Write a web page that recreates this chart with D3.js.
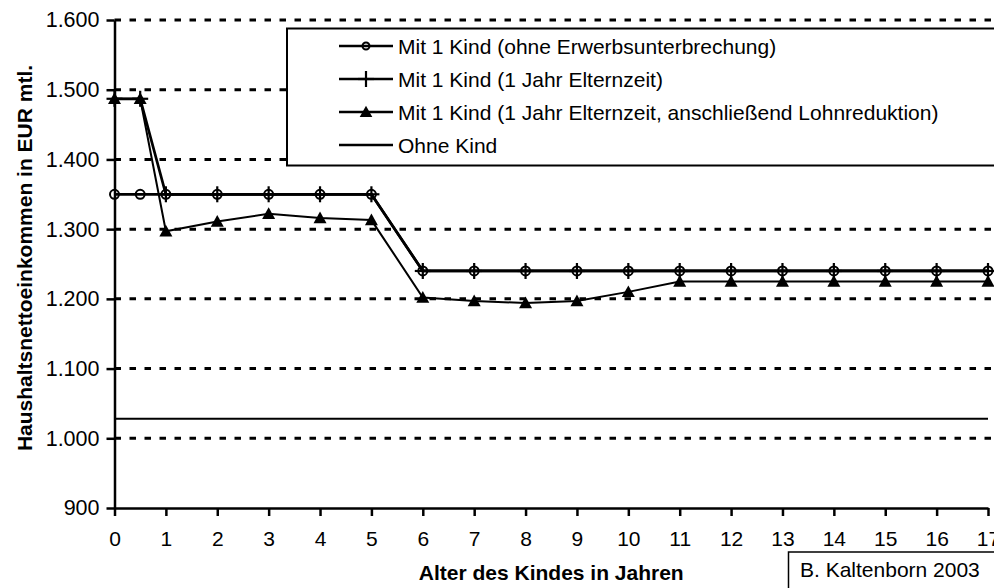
<!DOCTYPE html>
<html>
<head>
<meta charset="utf-8">
<script src="https://cdn.jsdelivr.net/npm/d3@7"></script>
<style>
  body { margin: 0; background: #fff; }
  svg text { font-family: "Liberation Sans", Arial, sans-serif; fill: #000; }
</style>
</head>
<body>
<div id="chart"></div>
<script>
// data
const ages = [0, 0.5, 1, 2, 3, 4, 5, 6, 7, 8, 9, 10, 11, 12, 13, 14, 15, 16, 17];
const ohneUnterbrechung = [1350, 1350, 1350, 1350, 1350, 1350, 1350, 1240, 1240, 1240, 1240, 1240, 1240, 1240, 1240, 1240, 1240, 1240, 1240];
const einJahrElternzeit = [1487, 1487, 1350, 1350, 1350, 1350, 1350, 1240, 1240, 1240, 1240, 1240, 1240, 1240, 1240, 1240, 1240, 1240, 1240];
const mitLohnreduktion = [1487, 1487, 1297, 1311, 1322, 1316, 1313, 1202, 1197, 1194, 1197, 1210, 1225, 1225, 1225, 1225, 1225, 1225, 1225];
const ohneKind = [1028, 1028, 1028, 1028, 1028, 1028, 1028, 1028, 1028, 1028, 1028, 1028, 1028, 1028, 1028, 1028, 1028, 1028, 1028];
const seriesNames = [
  "Mit 1 Kind (ohne Erwerbsunterbrechung)",
  "Mit 1 Kind (1 Jahr Elternzeit)",
  "Mit 1 Kind (1 Jahr Elternzeit, anschließend Lohnreduktion)",
  "Ohne Kind"
];
const yTicks = [900, 1000, 1100, 1200, 1300, 1400, 1500, 1600];
const xTicks = [0, 1, 2, 3, 4, 5, 6, 7, 8, 9, 10, 11, 12, 13, 14, 15, 16, 17];

const W = 994, H = 588;
const svg = d3.select("#chart").append("svg")
    .attr("width", W)
    .attr("height", H);

const x = d3.scaleLinear().domain([0, 17]).range([114.5, 988]);
const y = d3.scaleLinear().domain([900, 1600]).range([508, 20]);

const de = d3.formatLocale({decimal: ",", thousands: ".", grouping: [3], currency: ["", " €"]});
const fmt = de.format(",");

// dashed gridlines (not at the bottom)
svg.append("g")
  .selectAll("line")
  .data(yTicks.filter(d => d > 900))
  .enter().append("line")
    .attr("x1", x(0)).attr("x2", W)
    .attr("y1", d => y(d)).attr("y2", d => y(d))
    .attr("stroke", "#000")
    .attr("stroke-width", 3)
    .attr("stroke-dasharray", "6.5,8.5");

// axes
const yAxis = svg.append("g")
    .attr("transform", `translate(${x(0)},0)`)
    .call(d3.axisLeft(y).tickValues(yTicks).tickFormat(fmt).tickSize(8).tickSizeOuter(0).tickPadding(7));
yAxis.select(".domain").attr("stroke-width", 2.5);
yAxis.selectAll(".tick line").attr("stroke-width", 2.5);
yAxis.selectAll("text").style("font-size", "21.5px");

const xAxis = svg.append("g")
    .attr("transform", `translate(0,${y(900)})`)
    .call(d3.axisBottom(x).tickValues(xTicks).tickSize(8).tickSizeOuter(0).tickPadding(15));
xAxis.select(".domain").attr("stroke-width", 2.5);
xAxis.selectAll(".tick line").attr("stroke-width", 2.5);
xAxis.selectAll("text").style("font-size", "21px");

// axis titles
svg.append("text")
    .attr("transform", `translate(31.5,258) rotate(-90)`)
    .attr("text-anchor", "middle")
    .style("font-size", "21px")
    .style("font-weight", "bold")
    .text("Haushaltsnettoeinkommen in EUR mtl.");

svg.append("text")
    .attr("x", (x(0) + x(17)) / 2)
    .attr("y", 580)
    .attr("text-anchor", "middle")
    .style("font-size", "21px")
    .style("font-weight", "bold")
    .text("Alter des Kindes in Jahren");

// series lines
const line = d3.line().x((d, i) => x(ages[i])).y(d => y(d));
const allSeries = [ohneUnterbrechung, einJahrElternzeit, mitLohnreduktion, ohneKind];
const lineWidths = [2.7, 2.7, 2, 2];
allSeries.forEach(function (vals, k) {
  svg.append("path")
    .datum(vals)
    .attr("fill", "none")
    .attr("stroke", "#000")
    .attr("stroke-width", lineWidths[k])
    .attr("d", line);
});

// marker drawing helpers
function circleMark(g, r) {
  g.append("circle").attr("r", r).attr("fill", "none").attr("stroke", "#000").attr("stroke-width", 2);
}
function plusMark(g, s) {
  g.append("line").attr("x1", 0).attr("x2", 0).attr("y1", -s).attr("y2", s).attr("stroke", "#000").attr("stroke-width", 2.2);
  g.append("line").attr("x1", -s).attr("x2", s).attr("y1", 0).attr("y2", 0).attr("stroke", "#000").attr("stroke-width", 2.2);
}
function triMark(g, s) {
  g.append("path").attr("d", `M0,${-s}L${s},${s * 0.8}L${-s},${s * 0.8}Z`).attr("fill", "#000");
}

svg.append("g").selectAll("g")
  .data(ohneUnterbrechung).enter().append("g")
    .attr("transform", (d, i) => `translate(${x(ages[i])},${y(d)})`)
    .each(function () { circleMark(d3.select(this), 4.5); });

svg.append("g").selectAll("g")
  .data(einJahrElternzeit).enter().append("g")
    .attr("transform", (d, i) => `translate(${x(ages[i])},${y(d)})`)
    .each(function () { plusMark(d3.select(this), 8); });

svg.append("g").selectAll("g")
  .data(mitLohnreduktion).enter().append("g")
    .attr("transform", (d, i) => `translate(${x(ages[i])},${y(d)})`)
    .each(function () { triMark(d3.select(this), 6.5); });

// legend
const legend = svg.append("g");
legend.append("rect")
    .attr("x", 287).attr("y", 28.5)
    .attr("width", 720).attr("height", 137)
    .attr("fill", "#fff")
    .attr("stroke", "#000")
    .attr("stroke-width", 2);

const rowY = [46, 79, 112, 145];
seriesNames.forEach(function (name, k) {
  const g = legend.append("g").attr("transform", `translate(0,${rowY[k]})`);
  g.append("line").attr("x1", 339).attr("x2", 393).attr("y1", 0).attr("y2", 0)
    .attr("stroke", "#000").attr("stroke-width", 2.3);
  const m = g.append("g").attr("transform", "translate(366,0)");
  if (k === 0) circleMark(m, 3.5);
  if (k === 1) plusMark(m, 8);
  if (k === 2) triMark(m, 6.3);
  g.append("text")
    .attr("x", 398).attr("y", 0).attr("dy", "0.36em")
    .style("font-size", "21px")
    .text(name);
});

// credit box
svg.append("rect")
    .attr("x", 788.5).attr("y", 552)
    .attr("width", 220).attr("height", 50)
    .attr("fill", "#fff")
    .attr("stroke", "#000")
    .attr("stroke-width", 1.5);
svg.append("text")
    .attr("x", 800).attr("y", 577)
    .style("font-size", "21px")
    .text("B. Kaltenborn 2003");
</script>
</body>
</html>
